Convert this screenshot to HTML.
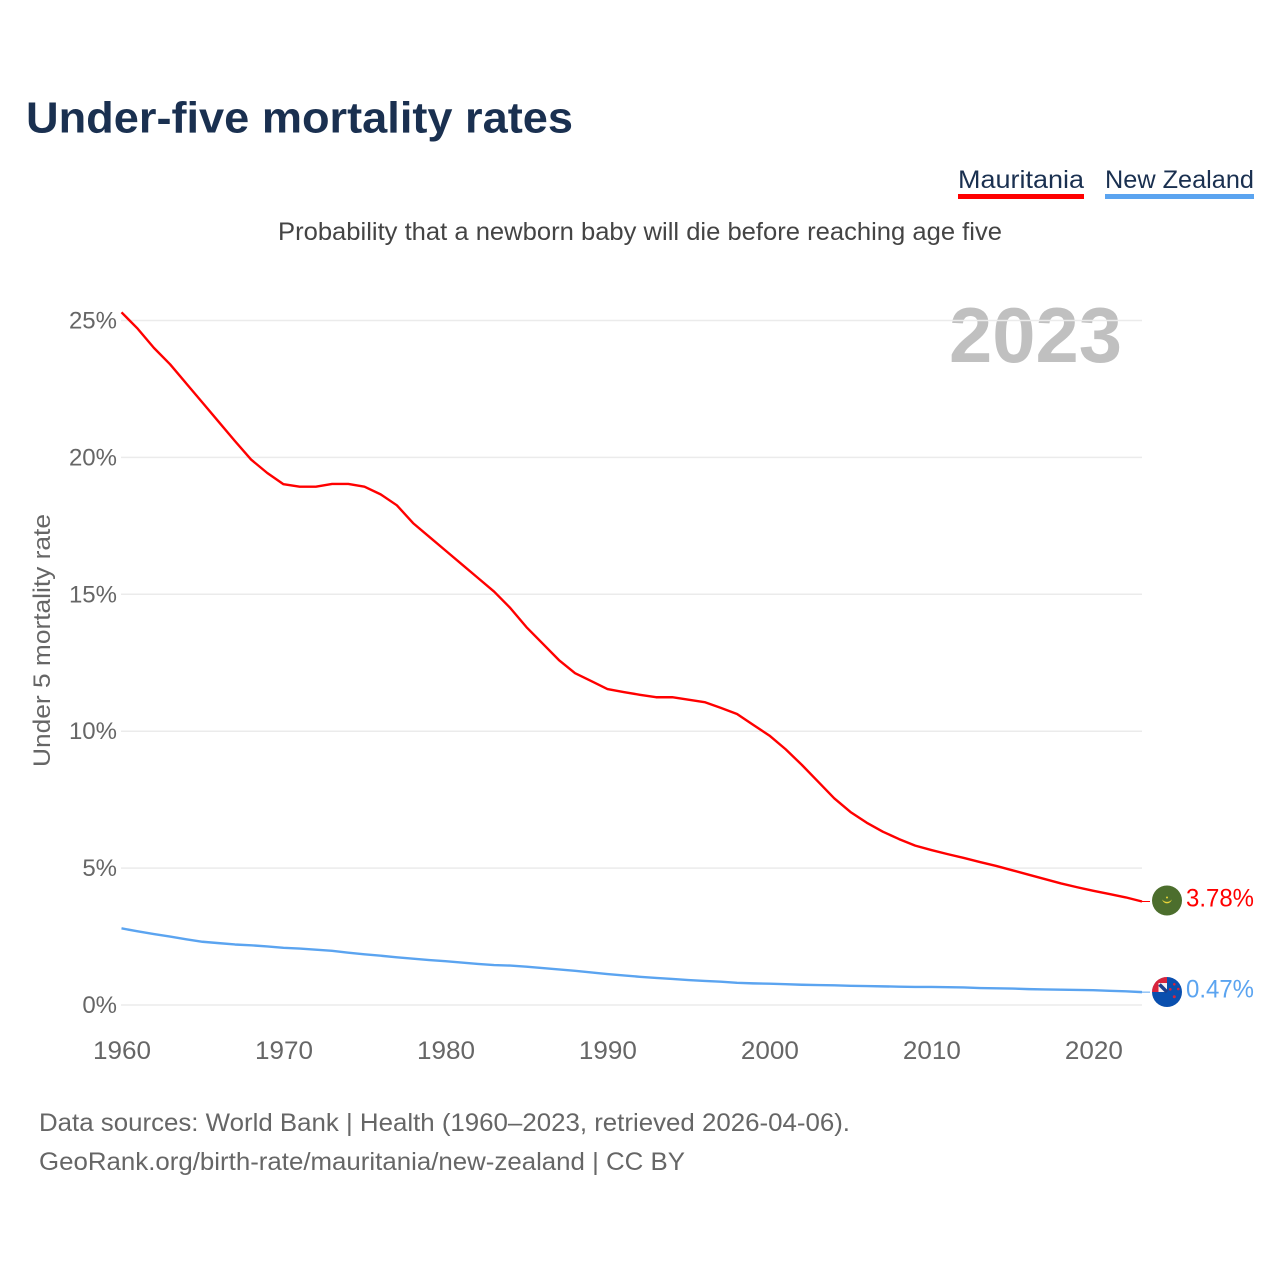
<!DOCTYPE html>
<html lang="en">
<head>
<meta charset="utf-8">
<title>Under-five mortality rates</title>
<style>
html,body{margin:0;padding:0;background:#fff;width:1280px;height:1280px;overflow:hidden}
svg{display:block;font-family:"Liberation Sans",sans-serif}
</style>
</head>
<body>
<svg id="chart" width="1280" height="1280" viewBox="0 0 1280 1280" xmlns="http://www.w3.org/2000/svg">
  <rect width="1280" height="1280" fill="#fff"/>
  <text x="26" y="132.500" font-size="44" font-weight="bold" fill="#1a3050" textLength="547" lengthAdjust="spacingAndGlyphs">Under-five mortality rates</text>
  <g>
    <text x="958" y="188" font-size="25" fill="#1a3050" textLength="126" lengthAdjust="spacingAndGlyphs">Mauritania</text>
    <rect x="958" y="194" width="126" height="5" fill="#ff0000"/>
  </g>
  <g>
    <text x="1105" y="188" font-size="25" fill="#1a3050" textLength="149" lengthAdjust="spacingAndGlyphs">New Zealand</text>
    <rect x="1105" y="194" width="149" height="5" fill="#5ba4f0"/>
  </g>
  <text x="278" y="240" font-size="25" fill="#444" textLength="724" lengthAdjust="spacingAndGlyphs">Probability that a newborn baby will die before reaching age five</text>
  <text x="949" y="362" font-size="78" font-weight="bold" fill="#c0c0c0" textLength="173" lengthAdjust="spacingAndGlyphs">2023</text>
  <text transform="translate(50,767) rotate(-90)" font-size="24" fill="#666" textLength="253" lengthAdjust="spacingAndGlyphs">Under 5 mortality rate</text>
  <g id="grid"></g>
  <g id="yticks"></g>
  <g id="xticks"></g>
  <g id="series"></g>
  <g>
    <circle cx="1167" cy="900.5" r="15" fill="#4c6e2d"/>
    <path d="M1162.2 899.5a4.9 4.9 0 0 0 9.6 0a6 6 0 0 1-9.6 0z" fill="#e8d53a"/>
    <circle cx="1167" cy="897.5" r="1" fill="#e8d53a"/>
  </g>
  <g>
    <clipPath id="nz-clip"><circle cx="1167" cy="992" r="15"/></clipPath>
    <g clip-path="url(#nz-clip)">
      <rect x="1152" y="977" width="30" height="30" fill="#0a4fae"/>
      <rect x="1152" y="977" width="15" height="15" fill="#f5f1f1"/>
      <rect x="1152" y="977" width="15" height="6" fill="#d8243c"/>
      <rect x="1152" y="977" width="6.500" height="15" fill="#d8243c"/>
      <path d="M1159.500 984.500L1167 992" stroke="#1d3f8c" stroke-width="3.500"/>
      <circle cx="1174.300" cy="984.300" r="1.3" fill="#d8243c"/>
      <circle cx="1178.300" cy="989" r="1.3" fill="#d8243c"/>
      <circle cx="1170.300" cy="989.300" r="1.3" fill="#d8243c"/>
      <circle cx="1174.300" cy="996.700" r="1.5" fill="#d8243c"/>
    </g>
  </g>
  <text x="39" y="1131" font-size="25" fill="#666" textLength="811" lengthAdjust="spacingAndGlyphs">Data sources: World Bank | Health (1960–2023, retrieved 2026-04-06).</text>
  <text x="39" y="1170" font-size="25" fill="#666" textLength="646" lengthAdjust="spacingAndGlyphs">GeoRank.org/birth-rate/mauritania/new-zealand | CC BY</text>
</svg>
<script>
const years = [1960,1961,1962,1963,1964,1965,1966,1967,1968,1969,1970,1971,1972,1973,1974,1975,1976,1977,1978,1979,1980,1981,1982,1983,1984,1985,1986,1987,1988,1989,1990,1991,1992,1993,1994,1995,1996,1997,1998,1999,2000,2001,2002,2003,2004,2005,2006,2007,2008,2009,2010,2011,2012,2013,2014,2015,2016,2017,2018,2019,2020,2021,2022,2023];
const mauritania = [25.3,24.7,24.0,23.4,22.7,22.0,21.3,20.6,19.92,19.43,19.02,18.93,18.93,19.03,19.03,18.93,18.65,18.25,17.6,17.1,16.6,16.1,15.6,15.1,14.5,13.8,13.2,12.6,12.12,11.83,11.54,11.43,11.33,11.24,11.24,11.15,11.06,10.85,10.63,10.23,9.84,9.34,8.77,8.16,7.55,7.05,6.66,6.33,6.06,5.82,5.66,5.51,5.37,5.22,5.08,4.92,4.76,4.6,4.44,4.3,4.17,4.05,3.93,3.78];
const newZealand = [2.8,2.69,2.59,2.5,2.4,2.31,2.26,2.21,2.18,2.14,2.09,2.06,2.02,1.98,1.91,1.85,1.8,1.74,1.69,1.64,1.6,1.55,1.5,1.46,1.44,1.4,1.35,1.3,1.25,1.19,1.13,1.08,1.03,0.99,0.95,0.91,0.88,0.85,0.81,0.79,0.78,0.76,0.74,0.73,0.72,0.7,0.69,0.68,0.67,0.66,0.66,0.65,0.64,0.62,0.61,0.6,0.58,0.57,0.56,0.55,0.54,0.52,0.5,0.47];
const yTicks = [0,5,10,15,20,25];
const xTicks = [1960,1970,1980,1990,2000,2010,2020];

const SVG_NS = 'http://www.w3.org/2000/svg';
function xScale(year){ return 121.5 + (year - 1960) * (1142 - 121.5) / 63; }
function yScale(v){ return 1005 - v * (1005 - 320.5) / 25; }
function make(tag, parent){
  const el = document.createElementNS(SVG_NS, tag);
  parent.appendChild(el);
  return el;
}

const grid = document.getElementById('grid');
const yG = document.getElementById('yticks');
const xG = document.getElementById('xticks');
const seriesG = document.getElementById('series');

yTicks.forEach(function(t){
  const line = make('line', grid);
  
  
  line.setAttribute('x1', 121);
  line.setAttribute('x2', 1142);
  line.setAttribute('y1', yScale(t));
  line.setAttribute('y2', yScale(t));
  line.setAttribute('stroke', '#ebebeb');
  line.setAttribute('stroke-width', 1.5);
  const label = make('text', yG);
  
  
  label.setAttribute('x', 117);
  label.setAttribute('y', yScale(t) + 8);
  label.setAttribute('text-anchor', 'end');
  label.setAttribute('font-size', 24);
  label.setAttribute('fill', '#666');
  label.textContent = t + '%';
});

xTicks.forEach(function(t){
  const label = make('text', xG);
  
  
  label.setAttribute('x', xScale(t) + 0.5);
  label.setAttribute('y', 1059);
  label.setAttribute('text-anchor', 'middle');
  label.setAttribute('font-size', 25);
  label.setAttribute('fill', '#666');
  label.setAttribute('textLength', 58);
  label.setAttribute('lengthAdjust', 'spacingAndGlyphs');
  label.textContent = t;
});

function drawSeries(values, color, lineName, leaderName, valueName, labelY){
  const line = make('polyline', seriesG);
  
  
  line.setAttribute('points', values.map(function(v, i){ return xScale(years[i]) + ',' + yScale(v); }).join(' '));
  line.setAttribute('fill', 'none');
  line.setAttribute('stroke', color);
  line.setAttribute('stroke-width', 2.4);
  line.setAttribute('stroke-linejoin', 'round');
  const last = values[values.length - 1];
  const leader = make('line', seriesG);
  
  
  leader.setAttribute('x1', xScale(years[years.length - 1]));
  leader.setAttribute('x2', 1150);
  leader.setAttribute('y1', yScale(last));
  leader.setAttribute('y2', yScale(last));
  leader.setAttribute('stroke', color);
  leader.setAttribute('stroke-width', 1);
  const value = make('text', seriesG);
  
  
  value.setAttribute('x', 1186);
  value.setAttribute('y', labelY);
  value.setAttribute('font-size', 25);
  value.setAttribute('fill', color);
  value.setAttribute('textLength', 68);
  value.setAttribute('lengthAdjust', 'spacingAndGlyphs');
  value.textContent = last.toFixed(2) + '%';
}
drawSeries(mauritania, '#ff0000', 'line-mauritania', 'leader-mauritania', 'value-label-mauritania', 906.5);
drawSeries(newZealand, '#5ba4f0', 'line-new-zealand', 'leader-new-zealand', 'value-label-new-zealand', 997.5);
</script>
</body>
</html>
